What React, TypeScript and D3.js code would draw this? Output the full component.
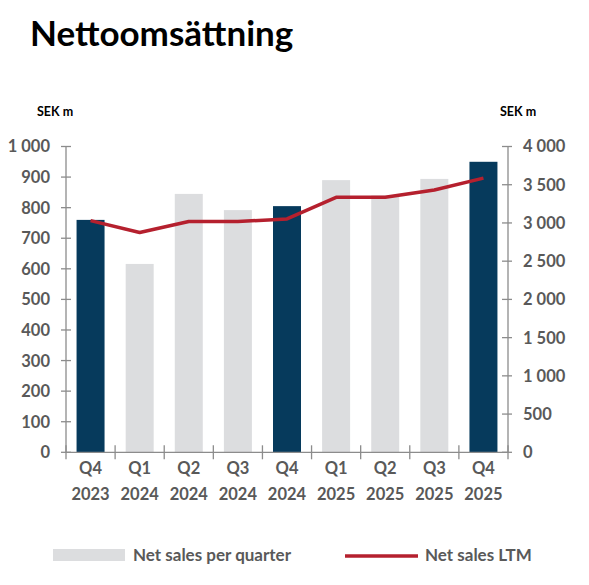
import * as d3 from 'd3';

const categories = ['Q4 2023', 'Q1 2024', 'Q2 2024', 'Q3 2024', 'Q4 2024', 'Q1 2025', 'Q2 2025', 'Q3 2025', 'Q4 2025'];
const quarterSales = [760, 616, 845, 792, 805, 890, 840, 894, 950];
const ltmSales = [3031, 2875, 3018, 3018, 3053, 3335, 3335, 3432, 3586];
const highlighted = [true, false, false, false, true, false, false, false, true];
const leftTicks = [0, 100, 200, 300, 400, 500, 600, 700, 800, 900, 1000];
const rightTicks = [0, 500, 1000, 1500, 2000, 2500, 3000, 3500, 4000];

const W = 589;
const H = 585;
const left = 66;
const right = 508;
const top = 146.5;
const bottom = 452.3;

const fmt = (v: number) => d3.format(',')(v).replace(/,/g, ' ');
const FONT = 'Lato, "Open Sans", sans-serif';
const GREY_TEXT = '#595959';
const AXIS = '#8c8c8c';

export default function App() {
    const x = d3.scaleBand<string>().domain(categories).range([left, right]).paddingInner(0.43).paddingOuter(0.215);
    const yL = d3.scaleLinear().domain([0, 1000]).range([bottom, top]);
    const yR = d3.scaleLinear().domain([0, 4000]).range([bottom, top]);
    const step = (right - left) / categories.length;

    const line = d3.line<number>()
        .x((_, i) => x(categories[i])! + x.bandwidth() / 2)
        .y(d => yR(d));

    return (
        <svg width={W} height={H} style={{ position: 'absolute', left: 0, top: 0, background: '#fff' }} fontFamily={FONT}>
            <text x={30} y={46} fontSize={35} fontWeight={700} fill="#000">Nettoomsättning</text>

            <text x={37} y={116} fontSize={12.5} fontWeight={700} fill="#000">SEK m</text>
            <text x={500} y={116} fontSize={12.5} fontWeight={700} fill="#000">SEK m</text>

            {/* bars */}
            {quarterSales.map((v, i) => (
                <rect key={i} x={x(categories[i])} y={yL(v)} width={x.bandwidth()} height={bottom - yL(v)}
                    fill={highlighted[i] ? '#063a5c' : '#dcdddf'} />
            ))}

            {/* left axis */}
            <line x1={left} x2={left} y1={top} y2={bottom} stroke={AXIS} strokeWidth={1.3} />
            {leftTicks.map(t => (
                <g key={t}>
                    <line x1={left - 5} x2={left + 5} y1={yL(t)} y2={yL(t)} stroke={AXIS} strokeWidth={1.3} />
                    <text x={50} y={yL(t)} dy="0.36em" textAnchor="end" fontSize={16.5} fontWeight={700} fill={GREY_TEXT}>{fmt(t)}</text>
                </g>
            ))}

            {/* right axis */}
            <line x1={right} x2={right} y1={top} y2={bottom} stroke={AXIS} strokeWidth={1.3} />
            {rightTicks.map(t => (
                <g key={t}>
                    <line x1={right - 6} x2={right + 4} y1={yR(t)} y2={yR(t)} stroke={AXIS} strokeWidth={1.3} />
                    <text x={523} y={yR(t)} dy="0.36em" textAnchor="start" fontSize={16.5} fontWeight={700} fill={GREY_TEXT}>{fmt(t)}</text>
                </g>
            ))}

            {/* x axis */}
            <line x1={left} x2={right} y1={bottom} y2={bottom} stroke={AXIS} strokeWidth={1.3} />
            {d3.range(categories.length + 1).map(i => (
                <line key={i} x1={left + i * step} x2={left + i * step} y1={bottom - 7} y2={bottom + 7} stroke={AXIS} strokeWidth={1.3} />
            ))}
            {categories.map(c => {
                const [q, yr] = c.split(' ');
                const cx = x(c)! + x.bandwidth() / 2;
                return (
                    <text key={c} x={cx} textAnchor="middle" fontSize={16.5} fontWeight={700} fill={GREY_TEXT}>
                        <tspan x={cx} y={474}>{q}</tspan>
                        <tspan x={cx} y={500}>{yr}</tspan>
                    </text>
                );
            })}

            {/* LTM line */}
            <path d={line(ltmSales)!} fill="none" stroke="#b5202e" strokeWidth={3.5} strokeLinejoin="round" />

            {/* legend */}
            <rect x={53} y={549} width={72} height={12} fill="#dcdddf" />
            <text x={133} y={561} fontSize={17} fontWeight={700} fill={GREY_TEXT}>Net sales per quarter</text>
            <line x1={345} x2={418} y1={556} y2={556} stroke="#b5202e" strokeWidth={3.5} />
            <text x={425} y={561} fontSize={17} fontWeight={700} fill={GREY_TEXT}>Net sales LTM</text>
        </svg>
    );
}
